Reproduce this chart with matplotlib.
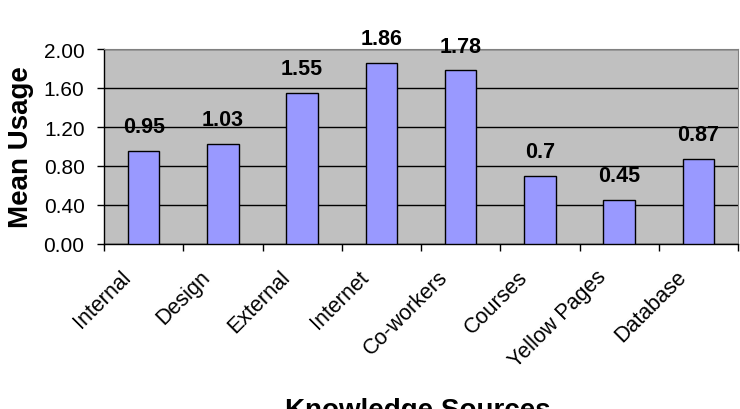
import numpy as np
import matplotlib.pyplot as plt
from matplotlib.transforms import ScaledTranslation

plt.rcParams['font.family'] = ['Liberation Sans', 'DejaVu Sans']

sources = ['Internal', 'Design', 'External', 'Internet', 'Co-workers',
           'Courses', 'Yellow Pages', 'Database']
usage = [0.95, 1.03, 1.55, 1.86, 1.78, 0.7, 0.45, 0.87]
labels = ['0.95', '1.03', '1.55', '1.86', '1.78', '0.7', '0.45', '0.87']
yticks = [0.0, 0.4, 0.8, 1.2, 1.6, 2.0]

fig = plt.figure(figsize=(7.4, 4.1), dpi=100)
ax = fig.add_axes([104/740, 165/410, 634/740, 195/410])
ax.set_facecolor('#C0C0C0')

x = np.arange(len(sources))
ax.bar(x, usage, width=0.4, color='#9999FF', edgecolor='black', linewidth=1, zorder=3)

for xi, v, s in zip(x, usage, labels):
    ax.annotate(s, (xi, v), xytext=(0, 10), textcoords='offset points',
                ha='center', va='bottom', fontsize=15.5, fontweight='bold', zorder=4)

ax.set_xlim(-0.5, len(sources) - 0.5)
ax.set_ylim(0, 2.0)
ax.set_yticks(yticks)
ax.set_yticklabels(['%.2f' % t for t in yticks], fontsize=15)
ax.yaxis.grid(True, color='black', linewidth=1, zorder=1)
ax.set_axisbelow(True)

# ticks at category boundaries, category names drawn under the bars
ax.set_xticks(np.arange(len(sources) + 1) - 0.5)
ax.set_xticklabels([])
ax.tick_params(axis='x', length=5, width=1)
ax.tick_params(axis='y', length=5, width=1, pad=9)
lbl_tr = ax.get_xaxis_transform() + ScaledTranslation(-23/100, -22/100, fig.dpi_scale_trans)
for xi, name in zip(x, sources):
    ax.text(xi, 0, name, transform=lbl_tr, rotation=45, ha='right', va='top',
            rotation_mode='anchor', fontsize=15.5, clip_on=False)

for side in ['top', 'right']:
    ax.spines[side].set_color('#808080')
for side in ['left', 'bottom']:
    ax.spines[side].set_color('black')
    ax.spines[side].set_linewidth(1)

ax.set_ylabel('Mean Usage', fontsize=20, fontweight='bold', labelpad=7)
fig.text(418/740, -8/410, 'Knowledge Sources', ha='center', va='baseline',
         fontsize=20, fontweight='bold')

fig.savefig('out.png', dpi=100)
